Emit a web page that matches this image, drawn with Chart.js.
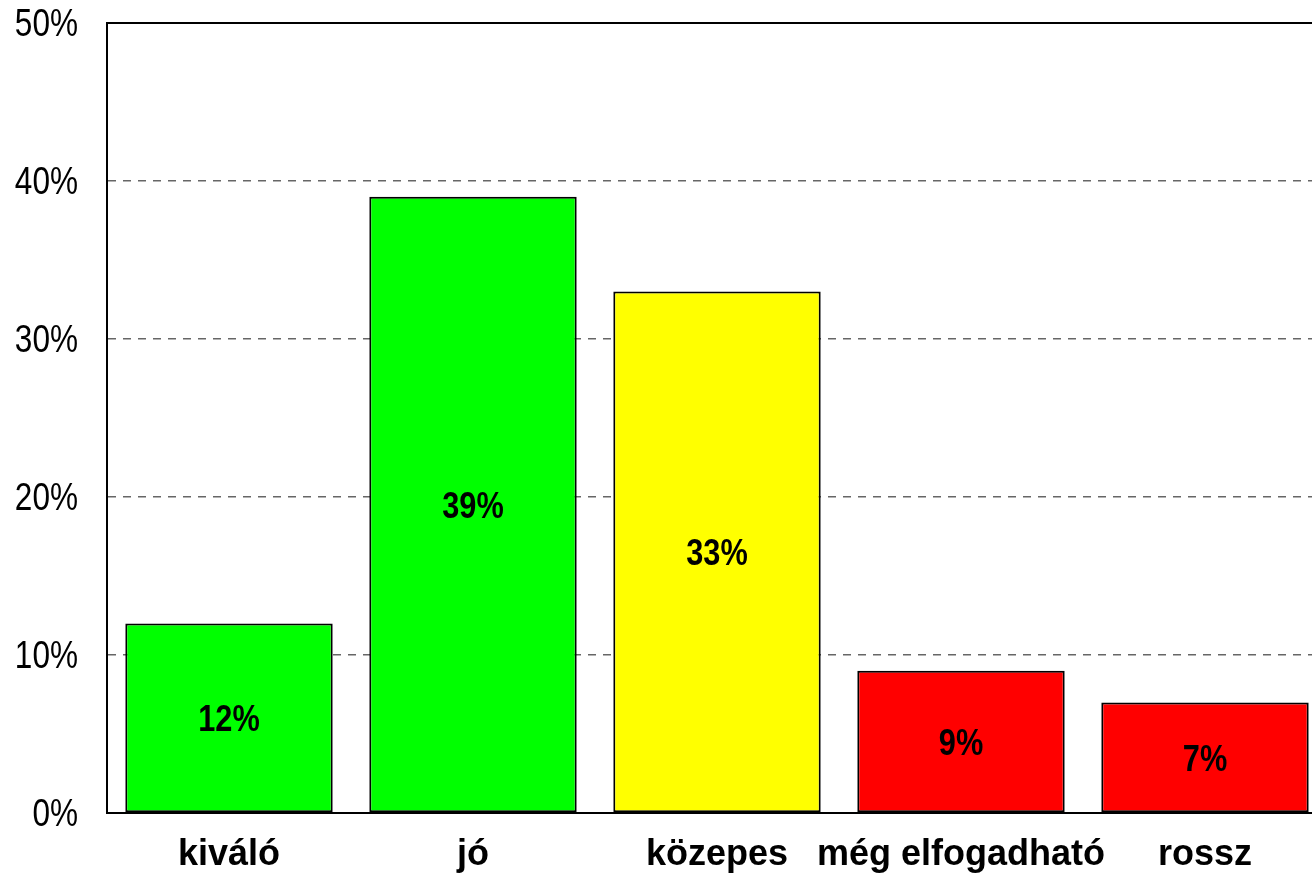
<!DOCTYPE html>
<html>
<head>
<meta charset="utf-8">
<script src="https://cdn.jsdelivr.net/npm/chart.js@4"></script>
<style>
  html, body { margin: 0; padding: 0; background: #fff; overflow: hidden; }
  canvas { display: block; }
</style>
</head>
<body>
<canvas id="c" width="1340" height="876"></canvas>
<script>
const categories = ["kiváló", "jó", "közepes", "még elfogadható", "rossz"];
const values = [12, 39, 33, 9, 7];
const barColors = ["#00FF00", "#00FF00", "#FFFF00", "#FF0000", "#FF0000"];
const yTicks = [0, 10, 20, 30, 40, 50];

const font = "'Liberation Sans', Arial, sans-serif";
const CONDENSE = 0.83;

const valueLabels = {
  id: 'valueLabels',
  afterDatasetsDraw(chart) {
    const ctx = chart.ctx;
    const meta = chart.getDatasetMeta(0);
    ctx.save();
    ctx.font = "bold 37px " + font;
    ctx.fillStyle = "#000";
    ctx.textAlign = "center";
    ctx.textBaseline = "middle";
    meta.data.forEach((bar, i) => {
      const p = bar.getProps(['x', 'y', 'base'], true);
      ctx.save();
      ctx.translate(p.x, (p.y + p.base) / 2 + 3);
      ctx.scale(CONDENSE, 1);
      ctx.fillText(values[i] + "%", 0, 0);
      ctx.restore();
    });
    ctx.restore();
  }
};

// Condense the y-axis tick labels horizontally (narrow-font look), anchored at their right edge
const condenseYTicks = {
  id: 'condenseYTicks',
  afterLayout(chart) {
    const scale = chart.scales.y;
    if (scale._condensed) return;
    scale._condensed = true;
    const orig = scale.drawLabels.bind(scale);
    scale.drawLabels = function (area) {
      const ctx = this.ctx;
      const x0 = this.right - this.options.ticks.padding;
      ctx.save();
      ctx.translate(x0, 3);
      ctx.scale(CONDENSE, 1);
      ctx.translate(-x0, 0);
      orig(area);
      ctx.restore();
    };
  }
};

new Chart(document.getElementById('c'), {
  type: 'bar',
  data: {
    labels: categories,
    datasets: [{
      data: values,
      backgroundColor: barColors,
      borderColor: "#000",
      borderWidth: 2,
      borderSkipped: false,
      categoryPercentage: 1.0,
      barPercentage: 0.85
    }]
  },
  options: {
    responsive: false,
    animation: false,
    devicePixelRatio: 1,
    layout: { autoPadding: false, padding: { left: 0, right: 13, top: 23, bottom: 0 } },
    plugins: { legend: { display: false }, tooltip: { enabled: false } },
    scales: {
      x: {
        grid: { display: false, drawTicks: false },
        border: { display: true, color: "#000", width: 2 },
        ticks: {
          color: "#000",
          font: { family: font, size: 36, weight: 'bold' },
          padding: 20,
          maxRotation: 0,
          autoSkip: false
        },
        afterFit(scale) { scale.height = 63; scale.paddingLeft = 0; scale.paddingRight = 0; }
      },
      y: {
        min: 0,
        max: 50,
        afterBuildTicks(scale) { scale.ticks = yTicks.map(v => ({ value: v })); },
        grid: {
          drawTicks: false,
          color: (c) => {
            if (!c.tick) return "#666666";
            if (c.tick.value === 0) return "rgba(0,0,0,0)";
            if (c.tick.value === 50) return "#000";
            return "#666666";
          },
          lineWidth: (c) => (c.tick && c.tick.value === 50) ? 2 : 1.5
        },
        border: {
          display: true,
          color: "#000",
          width: 2,
          dash: (c) => (c.tick && c.tick.value === 50) ? [] : [8, 7]
        },
        ticks: {
          color: "#000",
          font: { family: font, size: 38 },
          padding: 29,
          callback: (v) => v + "%"
        },
        afterFit(scale) { scale.width = 107; scale.paddingTop = 0; scale.paddingBottom = 0; }
      }
    }
  },
  plugins: [valueLabels, condenseYTicks]
});
</script>
</body>
</html>
